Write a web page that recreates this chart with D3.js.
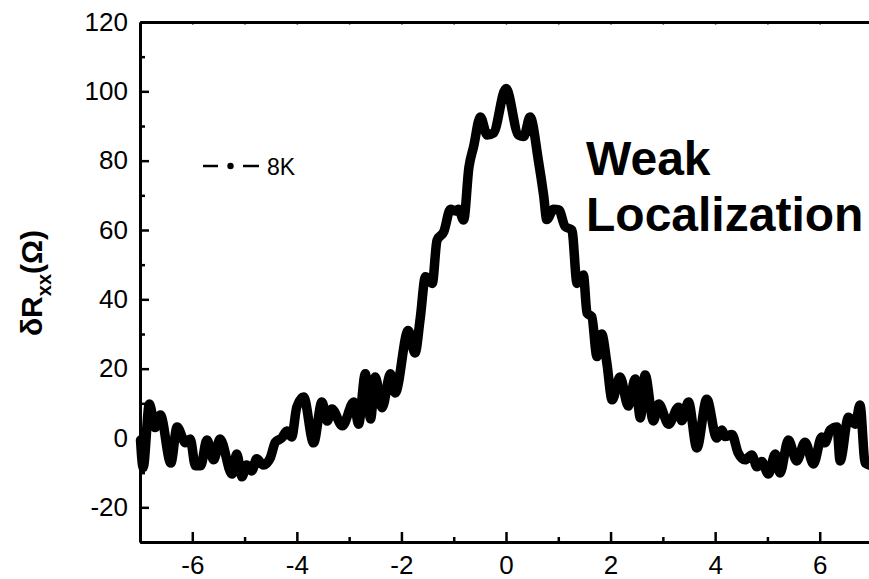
<!DOCTYPE html>
<html>
<head>
<meta charset="utf-8">
<script src="https://cdn.jsdelivr.net/npm/d3@7"></script>
<style>
  html, body { margin: 0; padding: 0; background: #fff; }
  svg { display: block; }
</style>
</head>
<body>
<svg id="chart" width="869" height="579"></svg>
<script>
// ---- data ----
const fieldB = [-6.99,-6.94,-6.82,-6.71,-6.61,-6.41,-6.29,-6.13,-6.04,-5.94,
  -5.84,-5.72,-5.59,-5.47,-5.24,-5.15,-5.05,-4.96,-4.86,-4.77,
  -4.64,-4.51,-4.41,-4.29,-4.19,-4.10,-4.00,-3.87,-3.68,-3.52,
  -3.42,-3.33,-3.13,-2.91,-2.82,-2.69,-2.59,-2.50,-2.37,-2.21,
  -2.12,-1.87,-1.74,-1.64,-1.54,-1.41,-1.32,-1.19,-1.06,-0.97,
  -0.91,-0.81,-0.71,-0.62,-0.49,-0.36,-0.24,0.00,0.24,0.34,
  0.46,0.62,0.72,0.78,0.91,1.01,1.13,1.26,1.36,1.48,
  1.55,1.64,1.74,1.83,1.93,2.03,2.18,2.34,2.47,2.57,
  2.66,2.82,2.92,3.11,3.30,3.36,3.49,3.65,3.84,4.03,
  4.13,4.19,4.32,4.44,4.57,4.70,4.80,4.89,5.02,5.15,
  5.24,5.40,5.56,5.72,5.88,6.04,6.10,6.20,6.33,6.39,
  6.55,6.68,6.77,6.87,7.00];
const deltaR = [-0.6,-8.5,9.8,3,6.6,-7.2,3.2,-1.4,-0.3,-8,
  -8,-0.6,-6.3,-0.3,-10.4,-4.6,-11.2,-7.8,-9.5,-6,
  -7.8,-5.8,-1.2,0,2,0.3,9,11.8,-1.4,10.4,
  4.9,8.4,3.5,10.4,4,18.5,5.5,17.6,8.7,18.5,
  13,31,24.5,34.6,46.5,44.6,57,59.5,66,65.5,
  66,62.9,78,84,92.6,87.4,88,100.8,87.4,87,
  92.6,80,70,63,66,65.8,61,60,44.6,47,
  36,35,23.5,30,21.5,11,17.6,9.2,17,5.8,
  18.2,4.9,9.8,4,8.9,5,10.4,-2.9,11.2,0,
  2.3,0.4,1,-4.3,-6.3,-4.9,-8.3,-6.8,-10.4,-4.6,
  -10.1,-0.6,-6.6,-1.2,-7.5,0.3,-1.4,2.3,3.2,-6.6,
  6,4,9.5,-7.2,-8];
const xMajorTicks = [-6,-4,-2,0,2,4,6];
const xMinorTicks = [-7,-5,-3,-1,1,3,5,7];
const yMajorTicks = [-20,0,20,40,60,80,100,120];
const yMinorTicks = [-30,-10,10,30,50,70,90,110];
const seriesName = "8K";
const annotationLines = ["Weak", "Localization"];

(function () {
// ---- layout ----
const svg = d3.select("#chart");
const font = "'Liberation Sans', Arial, Helvetica, sans-serif";
const pLeft = 140, pRight = 872, pTop = 22, pBottom = 542;

const x = d3.scaleLinear().domain([-7, 7]).range([pLeft, pRight]);
const y = d3.scaleLinear().domain([-30, 120]).range([pBottom, pTop]);
const fmt = d => String(d);

// curve
const data = fieldB.map((b, i) => ({b, r: deltaR[i]}));
const line = d3.line().x(d => x(d.b)).y(d => y(d.r)).curve(d3.curveMonotoneX);
svg.append("path")
  .datum(data)
  .attr("d", line)
  .attr("fill", "none")
  .attr("stroke", "#000")
  .attr("stroke-width", 9.5)
  .attr("stroke-linejoin", "round")
  .attr("stroke-linecap", "round");

function styleAxis(g) {
  g.select(".domain").attr("stroke", "#000").attr("stroke-width", 3);
  g.selectAll(".tick line").attr("stroke", "#000").attr("stroke-width", 2.5);
  g.selectAll("text").attr("font-family", font).attr("font-size", 26).attr("fill", "#000");
}

// bottom axis (ticks pointing inward)
const gx = svg.append("g").attr("transform", `translate(0,${pBottom})`)
  .call(d3.axisBottom(x).tickValues(xMajorTicks).tickSizeInner(-10).tickSizeOuter(0)
        .tickPadding(14).tickFormat(fmt));
styleAxis(gx);
svg.append("g").attr("transform", `translate(0,${pBottom})`)
  .call(d3.axisBottom(x).tickValues(xMinorTicks).tickSize(-5).tickFormat(""))
  .call(g => { g.select(".domain").remove(); g.selectAll("line").attr("stroke", "#000").attr("stroke-width", 2.5); });

// top axis
const gt = svg.append("g").attr("transform", `translate(0,${pTop})`)
  .call(d3.axisTop(x).tickValues(xMajorTicks.concat(xMinorTicks)).tickSize(-2.5).tickSizeOuter(0).tickFormat(""));
styleAxis(gt);
gt.selectAll(".tick line").attr("stroke-width", 1.5);

// left axis
const gy = svg.append("g").attr("transform", `translate(${pLeft},0)`)
  .call(d3.axisLeft(y).tickValues(yMajorTicks).tickSizeInner(-9).tickSizeOuter(0)
        .tickPadding(12).tickFormat(fmt));
styleAxis(gy);
svg.append("g").attr("transform", `translate(${pLeft},0)`)
  .call(d3.axisLeft(y).tickValues(yMinorTicks).tickSize(-5).tickFormat(""))
  .call(g => { g.select(".domain").remove(); g.selectAll("line").attr("stroke", "#000").attr("stroke-width", 2.5); });

// right axis (mostly beyond the window)
svg.append("g").attr("transform", `translate(${pRight},0)`)
  .call(d3.axisRight(y).tickValues([]).tickSizeOuter(0))
  .call(g => g.select(".domain").attr("stroke", "#000").attr("stroke-width", 3));

// y-axis title
const yt = svg.append("text")
  .attr("transform", `translate(42,${(pTop + pBottom) / 2 + 1}) rotate(-90)`)
  .attr("text-anchor", "middle")
  .attr("font-family", font)
  .attr("font-weight", "bold")
  .attr("font-size", 30)
  .attr("fill", "#000");
yt.append("tspan").text("δR");
yt.append("tspan").attr("font-size", 20).attr("dy", 9).text("xx");
yt.append("tspan").attr("dy", -9).text("(Ω)");

// legend
const lg = svg.append("g");
const legY = 166;
lg.append("line").attr("x1", 203).attr("x2", 218).attr("y1", legY).attr("y2", legY)
  .attr("stroke", "#000").attr("stroke-width", 2.5);
lg.append("circle").attr("cx", 230.5).attr("cy", legY).attr("r", 3.2).attr("fill", "#000");
lg.append("line").attr("x1", 243).attr("x2", 259).attr("y1", legY).attr("y2", legY)
  .attr("stroke", "#000").attr("stroke-width", 2.5);
lg.append("text").attr("x", 267).attr("y", legY + 8.5)
  .attr("font-family", font).attr("font-size", 23).attr("fill", "#000").text(seriesName);

// annotation
svg.append("text").attr("x", 586).attr("y", 175)
  .attr("font-family", font).attr("font-weight", "bold").attr("font-size", 48).attr("fill", "#000")
  .text(annotationLines[0]);
svg.append("text").attr("x", 586).attr("y", 231)
  .attr("font-family", font).attr("font-weight", "bold").attr("font-size", 48).attr("fill", "#000")
  .text(annotationLines[1]);
})();
</script>
</body>
</html>
